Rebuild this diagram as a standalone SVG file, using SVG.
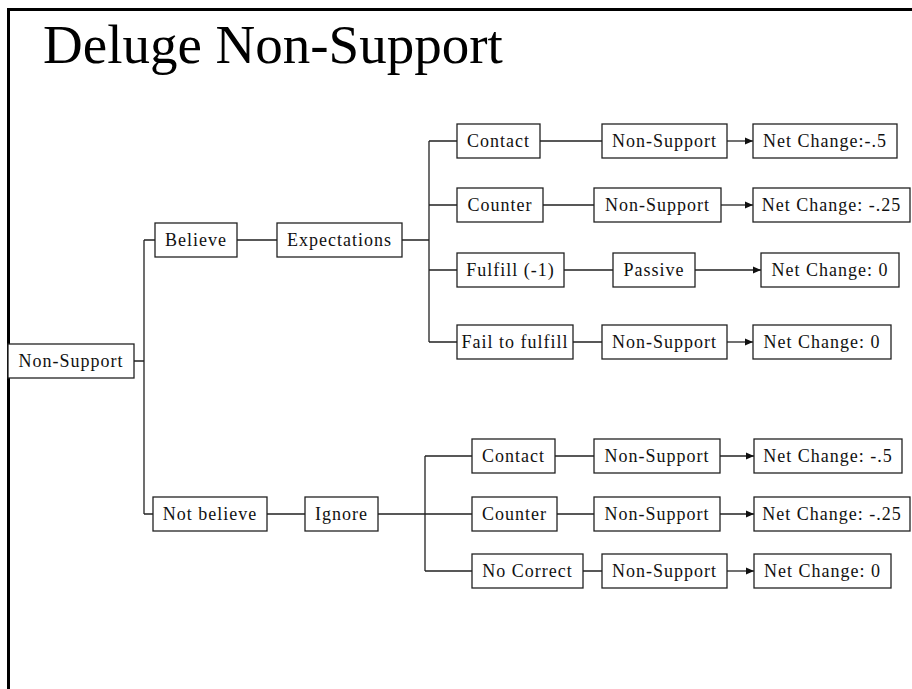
<svg xmlns="http://www.w3.org/2000/svg" width="912" height="689" viewBox="0 0 912 689">
  <style>
    .box rect { fill: #ffffff; stroke: #222222; stroke-width: 1.3; }
    .box text { font-family: "Liberation Serif", "Times New Roman", serif; font-size: 18px; letter-spacing: 1px; fill: #111111; text-anchor: middle; }
    .wire { fill: none; stroke: #222222; stroke-width: 1.3; }
    .arrow { fill: none; stroke: #222222; stroke-width: 1.3; marker-end: url(#head); }
    .title { font-family: "Liberation Serif", "Times New Roman", serif; font-size: 55px; fill: #000000; }
  </style>
  <defs>
    <marker id="head" markerUnits="userSpaceOnUse" markerWidth="9" markerHeight="8" refX="8" refY="4" orient="auto">
      <path d="M0,0.5 L8,4 L0,7.5 z" fill="#111111"/>
    </marker>
  </defs>

  <rect width="912" height="689" fill="#ffffff"/>
  <!-- page frame -->
  <path d="M8.5 689 V9.5 H912" fill="none" stroke="#000000" stroke-width="3"/>

  <text class="title" x="43" y="63">Deluge Non-Support</text>

  <!-- connectors -->
  <g id="connectors">
    <path class="wire" d="M134 361 H144 M144 240 V514 M144 240 H155 M144 514 H153"/>
    <path class="wire" d="M237 240 H277 M402 240 H429 M429 141 V342 M429 141 H457 M429 205 H457 M429 270 H457 M429 342 H457"/>
    <path class="wire" d="M540 141 H602 M543 205 H594 M564 270 H613 M573 342 H602"/>
    <path class="arrow" d="M727 141 H753"/>
    <path class="arrow" d="M721 205 H753"/>
    <path class="arrow" d="M695 270 H761"/>
    <path class="arrow" d="M727 342 H753"/>
    <path class="wire" d="M267 514 H305 M378 514 H425 M425 456 V571 M425 456 H472 M425 514 H472 M425 571 H472"/>
    <path class="wire" d="M555 456 H594 M557 514 H594 M583 571 H602"/>
    <path class="arrow" d="M720 456 H754"/>
    <path class="arrow" d="M720 514 H754"/>
    <path class="arrow" d="M727 571 H754"/>
  </g>

  <!-- root -->
  <g id="root" class="box"><rect x="8" y="344" width="126" height="34"/><text x="71" y="367">Non-Support</text></g>

  <!-- believe branch -->
  <g id="believe" class="box"><rect x="155" y="223" width="82" height="34"/><text x="196" y="246">Believe</text></g>
  <g id="expectations" class="box"><rect x="277" y="223" width="125" height="34"/><text x="339.5" y="246">Expectations</text></g>

  <g id="b-contact" class="box"><rect x="457" y="124" width="83" height="34"/><text x="498.5" y="147">Contact</text></g>
  <g id="b-contact-ns" class="box"><rect x="602" y="124" width="125" height="34"/><text x="664.5" y="147">Non-Support</text></g>
  <g id="b-contact-net" class="box"><rect x="753" y="124" width="144" height="34"/><text x="825" y="147">Net Change:-.5</text></g>

  <g id="b-counter" class="box"><rect x="457" y="188" width="86" height="34"/><text x="500" y="211">Counter</text></g>
  <g id="b-counter-ns" class="box"><rect x="594" y="188" width="127" height="34"/><text x="657.5" y="211">Non-Support</text></g>
  <g id="b-counter-net" class="box"><rect x="753" y="188" width="157" height="34"/><text x="831.5" y="211">Net Change: -.25</text></g>

  <g id="b-fulfill" class="box"><rect x="457" y="253" width="107" height="34"/><text x="510.5" y="276">Fulfill (-1)</text></g>
  <g id="b-passive" class="box"><rect x="613" y="253" width="82" height="34"/><text x="654" y="276">Passive</text></g>
  <g id="b-fulfill-net" class="box"><rect x="761" y="253" width="138" height="34"/><text x="830" y="276">Net Change: 0</text></g>

  <g id="b-fail" class="box"><rect x="457" y="325" width="116" height="34"/><text x="515" y="348">Fail to fulfill</text></g>
  <g id="b-fail-ns" class="box"><rect x="602" y="325" width="125" height="34"/><text x="664.5" y="348">Non-Support</text></g>
  <g id="b-fail-net" class="box"><rect x="753" y="325" width="138" height="34"/><text x="822" y="348">Net Change: 0</text></g>

  <!-- not-believe branch -->
  <g id="not-believe" class="box"><rect x="153" y="497" width="114" height="34"/><text x="210" y="520">Not believe</text></g>
  <g id="ignore" class="box"><rect x="305" y="497" width="73" height="34"/><text x="341.5" y="520">Ignore</text></g>

  <g id="n-contact" class="box"><rect x="472" y="439" width="83" height="34"/><text x="513.5" y="462">Contact</text></g>
  <g id="n-contact-ns" class="box"><rect x="594" y="439" width="126" height="34"/><text x="657" y="462">Non-Support</text></g>
  <g id="n-contact-net" class="box"><rect x="754" y="439" width="148" height="34"/><text x="828" y="462">Net Change: -.5</text></g>

  <g id="n-counter" class="box"><rect x="472" y="497" width="85" height="34"/><text x="514.5" y="520">Counter</text></g>
  <g id="n-counter-ns" class="box"><rect x="594" y="497" width="126" height="34"/><text x="657" y="520">Non-Support</text></g>
  <g id="n-counter-net" class="box"><rect x="754" y="497" width="156" height="34"/><text x="832" y="520">Net Change: -.25</text></g>

  <g id="n-nocorrect" class="box"><rect x="472" y="554" width="111" height="34"/><text x="527.5" y="577">No Correct</text></g>
  <g id="n-nocorrect-ns" class="box"><rect x="602" y="554" width="125" height="34"/><text x="664.5" y="577">Non-Support</text></g>
  <g id="n-nocorrect-net" class="box"><rect x="754" y="554" width="137" height="34"/><text x="822.5" y="577">Net Change: 0</text></g>
</svg>
